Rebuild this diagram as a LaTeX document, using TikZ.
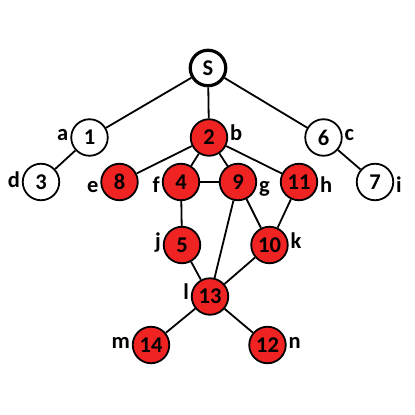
\documentclass[tikz,border=0pt]{standalone}
\usepackage{fontspec}
\setmainfont{Carlito}
\definecolor{nodered}{RGB}{240,35,35}
\begin{document}
\begin{tikzpicture}[x=1pt,y=-1pt,
  vtx/.style={circle,draw=black,line width=1.8pt,minimum size=36.5pt,inner sep=0pt,font=\bfseries\fontsize{22.5}{22.5}\selectfont},
  white/.style={vtx,fill=white},
  red/.style={vtx,fill=nodered},
  start/.style={vtx,fill=white,line width=3.2pt,minimum size=35.5pt},
  lbl/.style={font=\bfseries\fontsize{22.5}{22.5}\selectfont,inner sep=1.8pt,text height=0.63em,text depth=0pt},
  edge/.style={line width=1.8pt}]
\useasboundingbox (0,0) rectangle (415,415);
\node[start] (S) at (208,68) {S};
\node[white] (n1) at (89.5,137.5) {1};
\node[red] (n2) at (209,137.5) {2};
\node[white] (n6) at (323.5,137.5) {6};
\node[white] (n3) at (41,182) {3};
\node[red] (n8) at (119.5,182) {8};
\node[red] (n4) at (181,182) {4};
\node[red] (n9) at (238,182) {9};
\node[red] (n11) at (299,182) {11};
\node[white] (n7) at (375,182) {7};
\node[red] (n5) at (182,245) {5};
\node[red] (n10) at (269.5,245) {10};
\node[red] (n13) at (210,296.5) {13};
\node[red] (n14) at (151,345) {14};
\node[red] (n12) at (267.5,345) {12};
% labels
\node[lbl,anchor=east] (la) at (n1.west) {a};
\node[lbl,anchor=west] (lb) at (n2.east) {b};
\node[lbl,anchor=west] (lc) at (n6.east) {c};
\node[lbl,anchor=east] (ld) at ([yshift=-2pt]n3.west) {d};
\node[lbl,anchor=east] (le) at ([yshift=-7.5pt]n8.west) {e};
\node[lbl,anchor=east] (lf) at ([yshift=-7.5pt]n4.west) {f};
\node[lbl,anchor=west] (lg) at ([yshift=-7.5pt]n9.east) {g};
\node[lbl,anchor=west] (lh) at ([yshift=-7.5pt]n11.east) {h};
\node[lbl,anchor=west] (li) at ([yshift=-7.5pt]n7.east) {i};
\node[lbl,anchor=east] (lj) at (n5.west) {j};
\node[lbl,anchor=west] (lk) at (n10.east) {k};
\node[lbl,anchor=east] (ll) at (n13.west) {l};
\node[lbl,anchor=east] (lm) at (n14.west) {m};
\node[lbl,anchor=west] (ln) at (n12.east) {n};
% edges
\draw[edge] (S) -- (n1);
\draw[edge] (S) -- (n2);
\draw[edge] (S) -- (n6);
\draw[edge] (n1) -- (n3);
\draw[edge] (n6) -- (n7);
\draw[edge] (n2) -- (n8);
\draw[edge] (n2) -- (n4);
\draw[edge] (n2) -- (n9);
\draw[edge] (n2) -- (n11);
\draw[edge] (n4) -- (n9);
\draw[edge] (n4) -- (n5);
\draw[edge] (n9) -- (n10);
\draw[edge] (n9) -- (n13);
\draw[edge] (n11) -- (n10);
\draw[edge] (n5) -- (n13);
\draw[edge] (n10) -- (n13);
\draw[edge] (n13) -- (n14);
\draw[edge] (n13) -- (n12);
\end{tikzpicture}
\end{document}
